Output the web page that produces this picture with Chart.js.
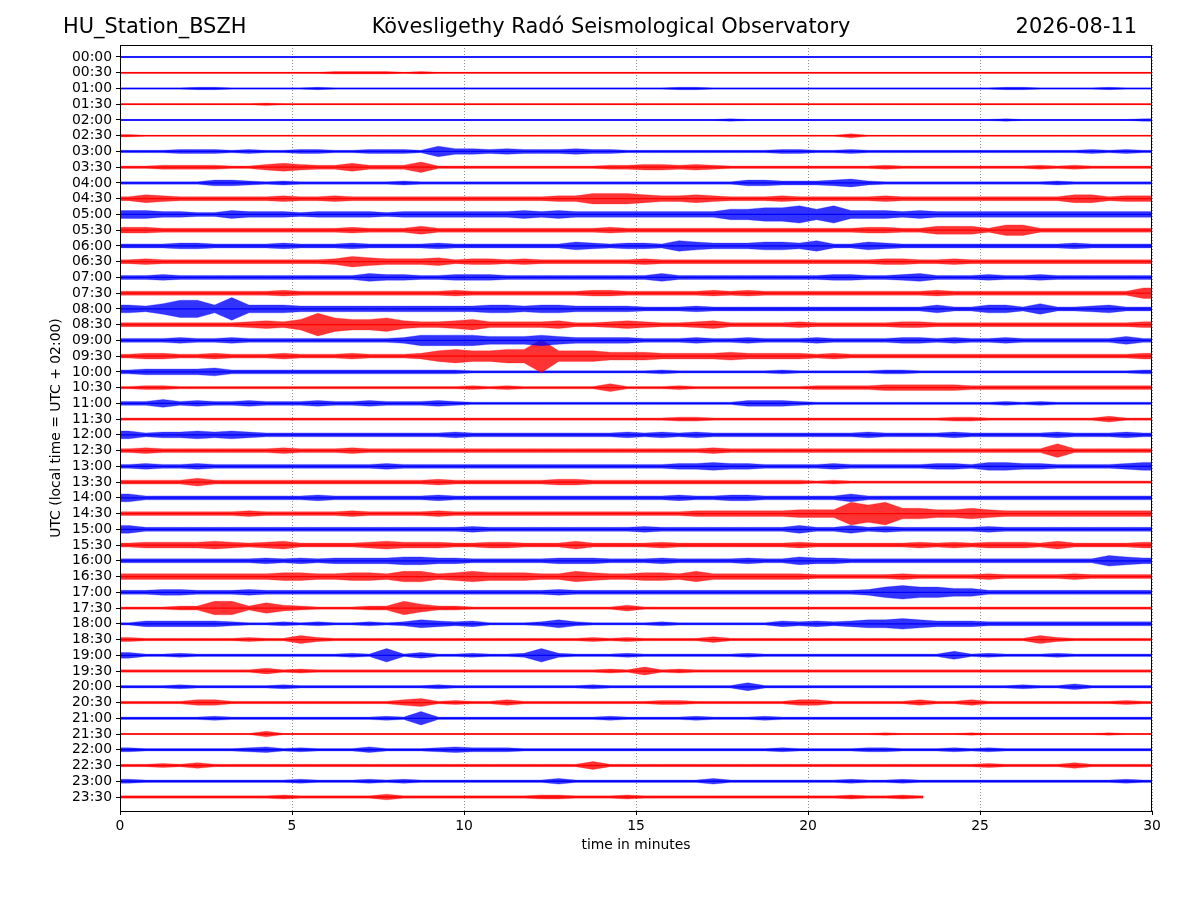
<!DOCTYPE html>
<html>
<head>
<meta charset="utf-8">
<title>HU_Station_BSZH helicorder</title>
<script src="https://cdn.jsdelivr.net/npm/chart.js@4.4.1/dist/chart.umd.min.js"></script>
<style>
  html, body { margin: 0; padding: 0; background: #fff; }
  #wrap { width: 1200px; height: 900px; position: relative; }
</style>
</head>
<body>
<div id="wrap"><canvas id="heli"></canvas></div>
<script>
// --- chart texts ---
const stationName = 'HU_Station_BSZH';
const observatory = 'Kövesligethy Radó Seismological Observatory';
const dayLabel = '2026-08-11';

// one trace per half hour, UTC
const traceLabels = [
    '00:00', '00:30', '01:00', '01:30', '02:00', '02:30', '03:00', '03:30',
    '04:00', '04:30', '05:00', '05:30', '06:00', '06:30', '07:00', '07:30',
    '08:00', '08:30', '09:00', '09:30', '10:00', '10:30', '11:00', '11:30',
    '12:00', '12:30', '13:00', '13:30', '14:00', '14:30', '15:00', '15:30',
    '16:00', '16:30', '17:00', '17:30', '18:00', '18:30', '19:00', '19:30',
    '20:00', '20:30', '21:00', '21:30', '22:00', '22:30', '23:00', '23:30'
];

const xTicks = [0, 5, 10, 15, 20, 25, 30];

// envelope amplitude per level digit, in units of trace spacing
const ampLevels = [0.035, 0.075, 0.125, 0.18, 0.25, 0.335, 0.43, 0.55, 0.72, 1.05];

// half-amplitude level (0-9) for every 0.5 minute of each trace
// '-' = no data yet
const traceEnvelope = [
    '00000000000000000000 00000000000000000000 00000000000000000000',
    '00000000000011110100 00000000000000000000 00000000000000000000',
    '00001100000100000000 00000000000011000000 00000000000110000100',
    '00000000100000000000 00000000000000000000 00000000000000000000',
    '00000000000000000000 00000000000000010000 00000000000100000001',
    '10000000000000000000 00000000000000000000 00200000000000000000',
    '11122212112211222153 32322232211111111122 11211111111111112121',
    '11222211343224222511 11111111223323211111 11112111111112121111',
    '11111332121111112111 11111111111111113322 23421111111111211111',
    '24322222232232222222 22222335554334322232 22223222222222244233',
    '44332243332333323333 33343433333333355667 57444343333333333333',
    '33222222222223222422 22222222322222222222 22233224442552222222',
    '22233222232223222232 22222243233254333443 52243222222222232222',
    '23222222222235433342 33232222223222222222 22223322322222222222',
    '22322222222222433223 33222222222422222222 23322342223223222222',
    '22222222232222222223 22222223322222323222 22222223222222222225',
    '43577484443333333333 34434433332223222222 22222224224425223422',
    '22222223435865564334 53333422343223422223 22222332222222222223',
    '22232232222222223555 54445433332223223222 32222332322322222242',
    '23322322232223222356 55669555444333343333 23222222222222222223',
    '23333422222222222222 11111111111211111121 11112211111111111112',
    '12211111111111111111 21211111411121111111 22223333322222222222',
    '22423223222322322232 11111111111111113332 11111111111212111111',
    '11111111111111111111 11111111111122111111 11111111221111111311',
    '42334343222222222223 22222222232323222222 22232222322222322232',
    '23222222232223222222 22222222222222322222 22222222222222622222',
    '23223222222222232222 22222222222233433222 23222223324433222234',
    '22224222222222222232 22222332222222222222 12111111111111111111',
    '42222222222322222232 22222222222232233222 22422222222222222222',
    '22222223222223222232 22222222222223333334 44878554454333333333',
    '42222222222222222222 32222222223222222224 22423222223222222222',
    '23333432342222343332 23322242222322222223 22222232323332422223',
    '22222222323233334433 22222333222322223224 33222222222222222543',
    '33333333344334435534 54443354334435333333 22222322223222232222',
    '22332223222222222222 22222322222222222222 22235655442222222222',
    '11122662532111226422 11111111131111111111 11111111111111111111',
    '13333321121211212432 31112421111211111132 32344543332222222222',
    '21111112114211111111 11111112121111311111 11111111111114211111',
    '31121111111112161311 21126211121111112111 11111111412111211111',
    '11111111312111111111 11111111214121111111 11111111111111111111',
    '11121111121111111121 11111112111111114111 11111111111121131111',
    '11113311111111113412 11311111111221111113 31111131131111111121',
    '11111211111111121611 11111111211112111211 11111111111111111111',
    '00000000300000000000 00000000000000000000 00001000010000000100',
    '21111112312111311123 22211111111111111121 11122111212111111111',
    '11213111111111111111 11111114111111111111 11111111112111131111',
    '21111111112111212111 11111311111111311111 11211211111111111121',
    '11111111121111131111 11112211121111111111 1121121-------------'
];

const binMinutes = 0.5;
const traceMinutes = 30;
const lastTraceEnd = 23.35;   // record stops here on the last line

function decodeEnvelope(s) {
    return s.replace(/ /g, '').split('').map(c => c === '-' ? null : ampLevels[Number(c)]);
}

const blue = [0, 0, 255];
const red = [255, 0, 0];
function rgba(c, a) { return 'rgba(' + c.join(',') + ',' + a + ')'; }

const datasets = [];
traceEnvelope.forEach(function (s, i) {
    const amps = decodeEnvelope(s);
    const end = (i === traceEnvelope.length - 1) ? lastTraceEnd : traceMinutes;
    const c = (i % 2 === 0) ? blue : red;
    const upper = [];
    const lower = [];
    let lastAmp = amps[0];

    upper.push({ x: 0, y: i - amps[0] });
    lower.push({ x: 0, y: i + amps[0] });
    amps.forEach(function (a, b) {
        const x = b * binMinutes + binMinutes / 2;
        if (a === null || x > end) return;
        upper.push({ x: x, y: i - a });
        lower.push({ x: x, y: i + a });
        lastAmp = a;
    });
    upper.push({ x: end, y: i - lastAmp });
    lower.push({ x: end, y: i + lastAmp });

    // outer envelope
    datasets.push({
        data: upper, borderColor: rgba(c, 0.5), backgroundColor: rgba(c, 0.8),
        borderWidth: 0.5, pointRadius: 0, tension: 0, fill: '+1'
    });
    datasets.push({
        data: lower, borderColor: rgba(c, 0.5), backgroundColor: rgba(c, 0.8),
        borderWidth: 0.5, pointRadius: 0, tension: 0, fill: false
    });
    // dense core of the trace
    datasets.push({
        data: [{ x: 0, y: i }, { x: end, y: i }], borderColor: rgba(c, 1),
        borderWidth: 1.3, pointRadius: 0, fill: false
    });
});

// frame round the plot and the three heading texts
const frameAndHeadings = {
    id: 'frameAndHeadings',
    afterDraw(chart) {
        const { ctx, chartArea: a } = chart;
        ctx.save();
        ctx.strokeStyle = '#000';
        ctx.lineWidth = 1;
        ctx.strokeRect(Math.round(a.left) + 0.5, Math.round(a.top) + 0.5,
            Math.round(a.width) - 1, Math.round(a.height));
        ctx.fillStyle = '#000';
        ctx.font = '20.9px "DejaVu Sans"';
        ctx.textBaseline = 'middle';
        ctx.textAlign = 'left';
        ctx.fillText(stationName, 63, 28);
        ctx.textAlign = 'center';
        ctx.fillText(observatory, 611, 28);
        ctx.textAlign = 'right';
        ctx.fillText(dayLabel, 1137, 28);
        ctx.restore();
    }
};

const tickFont = { family: 'DejaVu Sans', size: 13.9 };

new Chart(document.getElementById('heli'), {
    type: 'line',
    data: { datasets: datasets },
    options: {
        responsive: true,
        maintainAspectRatio: false,
        animation: false,
        events: [],
        layout: { padding: { left: 0, top: 45, right: 48, bottom: 0 } },
        plugins: { legend: { display: false }, tooltip: { enabled: false } },
        scales: {
            x: {
                type: 'linear',
                min: 0,
                max: traceMinutes,
                afterFit(scale) { scale.height = 89; },
                afterBuildTicks(scale) { scale.ticks = xTicks.map(v => ({ value: v })); },
                ticks: { font: tickFont, color: '#000', padding: 3, maxRotation: 0, autoSkip: false },
                grid: {
                    color: 'rgba(0,0,0,0.55)', lineWidth: 0.8,
                    drawTicks: true, tickLength: 4, tickColor: '#000', tickWidth: 1,
                    tickBorderDash: []
                },
                border: { display: false, dash: [1, 2] },
                title: {
                    display: true, text: 'time in minutes', color: '#000',
                    font: tickFont, padding: { top: 0, bottom: 46 }
                }
            },
            y: {
                type: 'linear',
                reverse: true,
                min: -0.762,
                max: 47.889,
                afterFit(scale) { scale.width = 120; },
                afterBuildTicks(scale) { scale.ticks = traceLabels.map((l, i) => ({ value: i })); },
                ticks: {
                    font: tickFont, color: '#000', padding: 4, autoSkip: false,
                    callback: v => traceLabels[v]
                },
                grid: {
                    drawOnChartArea: false, drawTicks: true, tickLength: 4,
                    tickColor: '#000', tickWidth: 1
                },
                border: { display: false },
                title: {
                    display: true, text: 'UTC (local time = UTC + 02:00)', color: '#000',
                    font: tickFont, padding: { top: 48, bottom: 0 }
                }
            }
        }
    },
    plugins: [frameAndHeadings]
});
</script>
</body>
</html>
